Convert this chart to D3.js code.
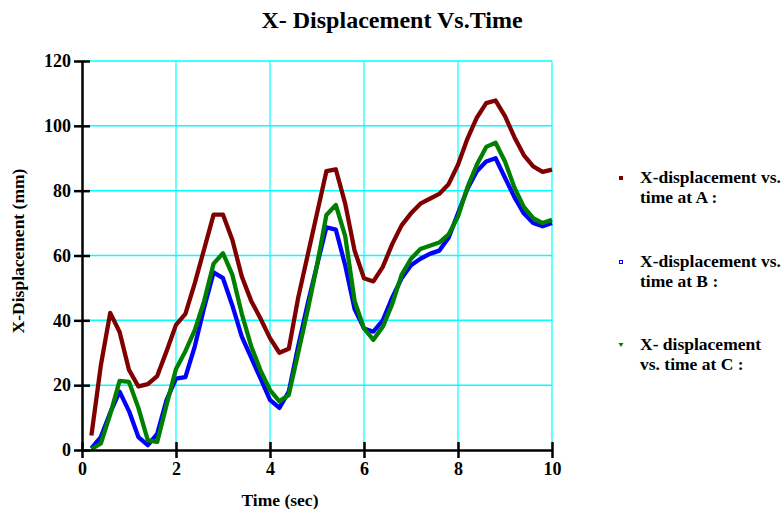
<!DOCTYPE html>
<html>
<head>
<meta charset="utf-8">
<script src="https://cdn.jsdelivr.net/npm/d3@7"></script>
<style>
  body { margin: 0; background: #fff; }
  text { font-family: "Liberation Serif", "Times New Roman", serif; font-weight: bold; }
</style>
</head>
<body>
<svg id="chart" width="784" height="509"></svg>
<script>
// time values (sec)
var times = [0.2, 0.4, 0.6, 0.8, 1.0, 1.2, 1.4, 1.6, 1.8, 2.0,
             2.2, 2.4, 2.6, 2.8, 3.0, 3.2, 3.4, 3.6, 3.8, 4.0,
             4.2, 4.4, 4.6, 4.8, 5.0, 5.2, 5.4, 5.6, 5.8, 6.0,
             6.2, 6.4, 6.6, 6.8, 7.0, 7.2, 7.4, 7.6, 7.8, 8.0,
             8.2, 8.4, 8.6, 8.8, 9.0, 9.2, 9.4, 9.6, 9.8, 10.0];

// x displacement at A (mm)
var dispA = [4.5, 26, 42.3, 36.4, 24.7, 19.6, 20.3, 22.8, 30.5, 38.6,
             42, 51.5, 62, 72.6, 72.6, 64.8, 53.5, 46, 40.5, 34.5,
             30, 31.2, 47, 60, 73, 86, 86.6, 76, 61.5, 53,
             52, 56.5, 63.5, 69.3, 73, 76, 77.5, 79, 82, 88,
             96, 102.5, 107, 107.8, 103, 96.5, 91, 87.5, 85.8, 86.5];

// x displacement at B (mm)
var dispB = [0.5, 4, 11.5, 18, 12, 4, 1.5, 5, 15.5, 22,
             22.5, 32, 44, 54.8, 53, 44.5, 35, 28.5, 22, 15.5,
             13, 18, 32, 45, 57, 68.7, 68, 57, 43.5, 37.5,
             36.5, 40, 47, 53, 57, 59, 60.5, 61.5, 65.5, 73,
             80.5, 86, 89, 90, 84, 78, 73, 70, 69, 70];

// x displacement at C (mm)
var dispC = [0.3, 2, 11, 21.3, 21, 13, 3, 2.5, 14, 25,
             30.5, 37, 46, 57.5, 60.7, 54, 42, 32, 24.5, 18.5,
             15, 17, 30, 43, 57, 72.5, 75.6, 66, 46, 37.5,
             34, 38, 45, 54, 59, 62, 63, 64, 66.5, 72,
             81, 88, 93.5, 94.8, 89, 81, 75, 71.5, 70, 71];

var xTicks = [0, 2, 4, 6, 8, 10];
var yTicks = [0, 20, 40, 60, 80, 100, 120];

var seriesNames = ["X-displacement vs.|time at A :", "X-displacement vs.|time at B :", "X- displacement|vs. time at C :"];
var seriesColors = ["#800000", "#0000ff", "#008000"];

var margin = {top: 61, right: 232, bottom: 59, left: 82};
var width = 784 - margin.left - margin.right;
var height = 509 - margin.top - margin.bottom;

var svg = d3.select('#chart');

var xScale = d3.scaleLinear().domain([0, 10]).range([0, width]);
var yScale = d3.scaleLinear().domain([0, 120]).range([height, 0]);

var g = svg.append('g')
  .attr('transform', 'translate(' + margin.left + ',' + margin.top + ')');

// grid
g.selectAll('.vgrid')
  .data(xTicks.filter(d => d > 0))
  .enter().append('line')
    .attr('x1', d => xScale(d)).attr('x2', d => xScale(d))
    .attr('y1', 0).attr('y2', height)
    .style('stroke', '#00ffff').style('stroke-width', 1.2);

g.selectAll('.hgrid')
  .data(yTicks.filter(d => d > 0))
  .enter().append('line')
    .attr('x1', 0).attr('x2', width)
    .attr('y1', d => yScale(d)).attr('y2', d => yScale(d))
    .style('stroke', '#00ffff').style('stroke-width', 1.5);

// lines
var allSeries = [dispA, dispB, dispC];
var line = d3.line()
  .x((d, i) => xScale(times[i]))
  .y(d => yScale(d));

allSeries.forEach(function(s, k) {
  g.append('path')
    .datum(s)
    .attr('d', line)
    .style('fill', 'none')
    .style('stroke', seriesColors[k])
    .style('stroke-width', 4.3)
    .style('stroke-linejoin', 'round');
});

// axes
var xAxis = d3.axisBottom(xScale).tickValues(xTicks).tickSizeInner(8).tickSizeOuter(0).tickPadding(4);
var yAxis = d3.axisLeft(yScale).tickValues(yTicks).tickSizeInner(8).tickSizeOuter(0).tickPadding(3);

var gx = g.append('g')
  .attr('transform', 'translate(0,' + height + ')')
  .call(xAxis);
gx.select('.domain').style('stroke', '#000').style('stroke-width', 2.5);
gx.selectAll('.tick line').attr('y1', -8).style('stroke', '#000').style('stroke-width', 2.5);
gx.selectAll('.tick text').style('font-size', '18px').style('fill', '#000')
  .style('font-family', '"Liberation Serif", serif').style('font-weight', 'bold');

var gy = g.append('g').call(yAxis);
gy.select('.domain').style('stroke', '#000').style('stroke-width', 2.5);
gy.selectAll('.tick line').attr('x1', 8).style('stroke', '#000').style('stroke-width', 2.5);
gy.selectAll('.tick text').style('font-size', '18px').style('fill', '#000')
  .style('font-family', '"Liberation Serif", serif').style('font-weight', 'bold');

/*TITLE*/
svg.append('text')
  .attr('x', 392)
  .attr('y', 28)
  .attr('text-anchor', 'middle')
  .style('font-size', '24px')
  .text('X- Displacement Vs.Time');

svg.append('text')
  .attr('x', 280)
  .attr('y', 506)
  .attr('text-anchor', 'middle')
  .style('font-size', '17.5px')
  .text('Time (sec)');

svg.append('text')
  .attr('transform', 'translate(24,251) rotate(-90)')
  .attr('text-anchor', 'middle')
  .style('font-size', '17.5px')
  .text('X-Displacement (mm)');

// legend
var legendY = [183, 267, 350];
var leg = svg.append('g');
seriesNames.forEach(function(name, k) {
  var parts = name.split('|');
  var ly = legendY[k];
  if (k === 0) {
    leg.append('rect').attr('x', 619).attr('y', ly - 7).attr('width', 4).attr('height', 4)
      .style('fill', seriesColors[k]);
  } else if (k === 1) {
    leg.append('rect').attr('x', 619.5).attr('y', ly - 6.5).attr('width', 3).attr('height', 3)
      .style('fill', 'none').style('stroke', seriesColors[k]).style('stroke-width', 1);
  } else {
    leg.append('path').attr('d', 'M618.5,' + (ly - 7) + 'L623.5,' + (ly - 7) + 'L621,' + (ly - 3) + 'Z')
      .style('fill', seriesColors[k]);
  }
  leg.append('text').attr('x', 640).attr('y', ly).style('font-size', '17.5px').text(parts[0]);
  leg.append('text').attr('x', 640).attr('y', ly + 19.5).style('font-size', '17.5px').text(parts[1]);
});
</script>
</body>
</html>
